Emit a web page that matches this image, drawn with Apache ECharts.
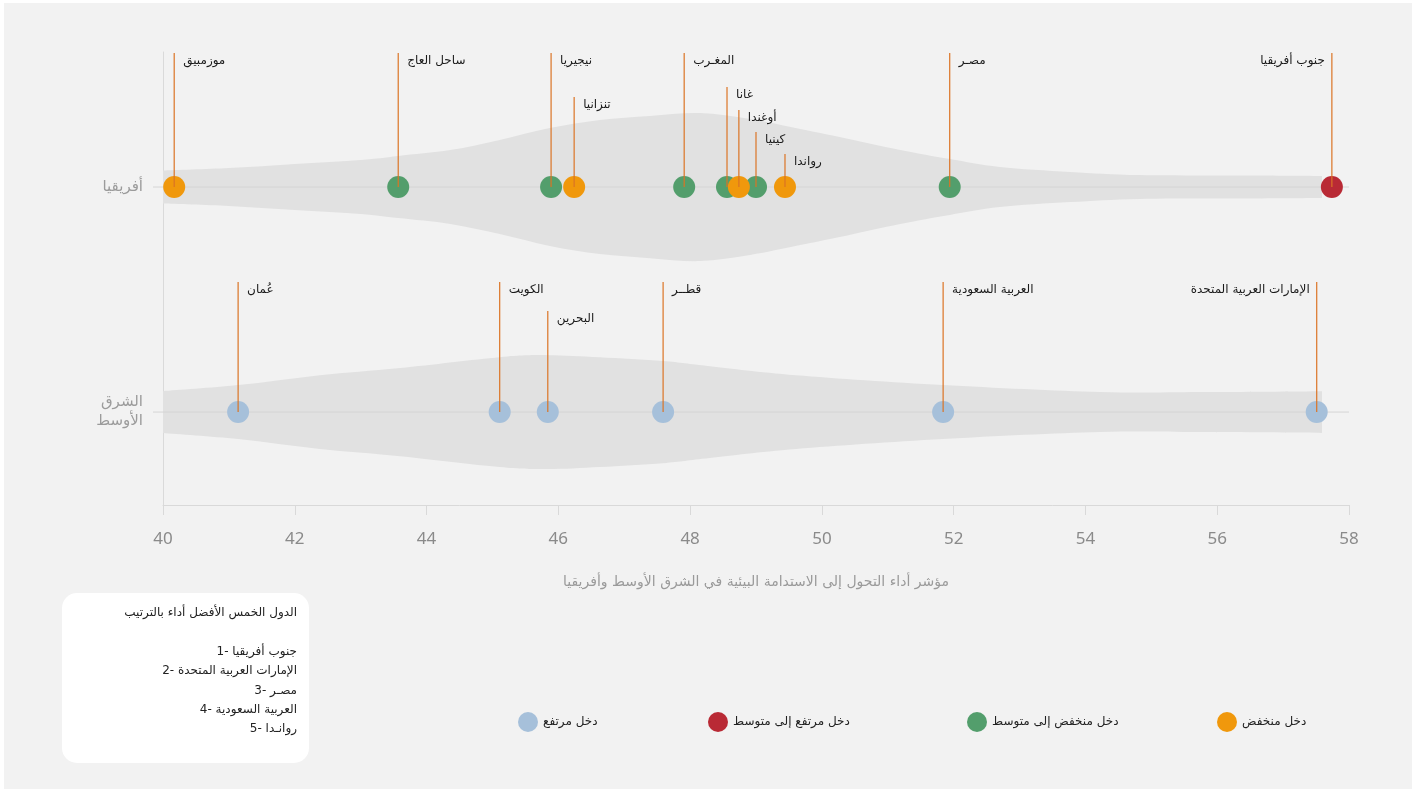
<!DOCTYPE html>
<html>
<head lang="ar">
    <meta charset="UTF-8">
    <title>violin</title>
    <style>
        body{ margin:0; background:#ffffff; }
        #chart{ position:absolute; left:4px; top:3px; width:1408px; height:786px; background:#f2f2f2; }
    </style>
</head>
<body>
<div id="chart"></div>
<script src="https://cdn.jsdelivr.net/npm/echarts@6/dist/echarts.min.js"></script>
<script>
    // الفئات (محور ص): 0 = الشرق الأوسط ، 1 = أفريقيا
    var regionNames = ['الشرق\nالأوسط', 'أفريقيا'];

    // فئات الدخل والألوان
    var incomeGroups = ['دخل مرتفع', 'دخل مرتفع إلى متوسط', 'دخل منخفض إلى متوسط', 'دخل منخفض'];
    var incomeColors = ['#a6c0da', '#b92a35', '#539e6c', '#f0980c'];

    // أفريقيا
    var africaNames  = ['موزمبيق', 'ساحل العاج', 'نيجيريا', 'تنزانيا', 'المغـرب', 'غانا', 'أوغندا', 'كينيا', 'رواندا', 'مصـر', 'جنوب أفريقيا'];
    var africaScores = [40.17, 43.57, 45.89, 46.24, 47.91, 48.56, 48.74, 49.00, 49.44, 51.94, 57.74];
    var africaIncome = [3, 2, 2, 3, 2, 2, 3, 2, 3, 2, 1];

    // الشرق الأوسط
    var meNames  = ['عُمان', 'الكويت', 'البحرين', 'قطــر', 'العربية السعودية', 'الإمارات العربية المتحدة'];
    var meScores = [41.14, 45.11, 45.84, 47.59, 51.84, 57.51];
    var meIncome = [0, 0, 0, 0, 0, 0];

    // شكل الكمان (القيمة، نصف العرض)
    var africaViolinX    = [40.0, 41.0, 42.0, 43.0, 43.57, 44.36, 45.11, 45.87, 46.63, 47.39, 48.15, 48.91, 49.67, 50.27, 51.19, 51.94, 52.70, 53.77, 54.83, 56.5, 57.59];
    var africaViolinHalf = [0.073, 0.084, 0.102, 0.12, 0.138, 0.164, 0.209, 0.262, 0.298, 0.316, 0.329, 0.302, 0.258, 0.222, 0.164, 0.124, 0.089, 0.067, 0.053, 0.051, 0.049];
    var meViolinX    = [40.0, 41.14, 42.38, 43.6, 45.11, 45.84, 46.63, 47.59, 48.3, 49.61, 51.84, 54.22, 55.74, 57.59];
    var meViolinHalf = [0.093, 0.12, 0.164, 0.196, 0.244, 0.253, 0.244, 0.227, 0.204, 0.164, 0.12, 0.089, 0.089, 0.093];

    // الدول الخمس الأفضل
    var topFiveTitle = 'الدول الخمس الأفضل أداء بالترتيب';
    var topFive = ['جنوب أفريقيا', 'الإمارات العربية المتحدة', 'مصـر', 'العربية السعودية', 'روانـدا'];

    var xAxisName = 'مؤشر أداء التحول إلى الاستدامة البيئية في الشرق الأوسط وأفريقيا';

    // ارتفاع خط التسمية (بكسل) - للتدرج فقط
    var labelLift = { 'تنزانيا': 90, 'غانا': 100, 'أوغندا': 77, 'كينيا': 55, 'رواندا': 33, 'البحرين': 101 };

    var myChart = echarts.init(document.getElementById('chart'));

    // بناء البيانات
    var points = [];
    africaNames.forEach(function (n, i) {
        points.push({ name: n, x: africaScores[i], y: 1, income: africaIncome[i], lift: labelLift[n] || 134 });
    });
    meNames.forEach(function (n, i) {
        points.push({ name: n, x: meScores[i], y: 0, income: meIncome[i], lift: labelLift[n] || 130 });
    });

    var scatterSeries = incomeGroups.map(function (g, k) {
        return {
            name: g,
            type: 'scatter',
            symbolSize: 22,
            z: 3,
            itemStyle: { color: incomeColors[k], opacity: 1 },
            data: points.filter(function (p) { return p.income === k; }).map(function (p) { return [p.x, p.y]; })
        };
    });

    // منحنى ناعم
    function curve(pts) {
        var d = '';
        for (var i = 0; i < pts.length - 1; i++) {
            var p0 = pts[i - 1] || pts[i], p1 = pts[i], p2 = pts[i + 1], p3 = pts[i + 2] || p2;
            var c1x = p1[0] + (p2[0] - p0[0]) / 6, c1y = p1[1] + (p2[1] - p0[1]) / 6;
            var c2x = p2[0] - (p3[0] - p1[0]) / 6, c2y = p2[1] - (p3[1] - p1[1]) / 6;
            d += ' C' + c1x + ',' + c1y + ' ' + c2x + ',' + c2y + ' ' + p2[0] + ',' + p2[1];
        }
        return d;
    }

    var violins = [
        { y: 0, xs: meViolinX, hs: meViolinHalf },
        { y: 1, xs: africaViolinX, hs: africaViolinHalf }
    ];

    function renderViolin(params, api) {
        var v = violins[params.dataIndex];
        var up = [], low = [];
        for (var i = 0; i < v.xs.length; i++) {
            up.push(api.coord([v.xs[i], v.y + v.hs[i]]));
            low.unshift(api.coord([v.xs[i], v.y - v.hs[i]]));
        }
        var d = 'M' + up[0][0] + ',' + up[0][1] + curve(up) +
            ' L' + low[0][0] + ',' + low[0][1] + curve(low) + ' Z';
        var a = api.coord([40, v.y]), b = api.coord([58, v.y]);
        return {
            type: 'group',
            children: [
                { type: 'path', shape: { pathData: d }, style: { fill: '#e1e1e1' } },
                { type: 'line', shape: { x1: a[0] - 10, y1: a[1], x2: b[0], y2: b[1] }, style: { stroke: '#d5d5d5', lineWidth: 1 } }
            ]
        };
    }

    function renderLeader(params, api) {
        var p = points[params.dataIndex];
        var c = api.coord([p.x, p.y]);
        var top = c[1] - p.lift;
        var onLeft = p.x > 57;
        return {
            type: 'group',
            children: [
                { type: 'line', shape: { x1: c[0], y1: c[1], x2: c[0], y2: top }, style: { stroke: '#db7425', lineWidth: 1.2 } },
                {
                    type: 'text', x: onLeft ? c[0] - 7 : c[0] + 9, y: top + 8,
                    style: { text: p.name, textAlign: onLeft ? 'right' : 'left', textVerticalAlign: 'middle', fill: '#1a1a1a', font: '12px "DejaVu Sans"' }
                }
            ]
        };
    }

    var legendLeft = [514, 704, 963, 1213];

    // صندوق الترتيب
    var boxFont = '12px "DejaVu Sans"';
    var boxTexts = [
        { type: 'rect', left: 58, top: 590, shape: { width: 247, height: 170, r: 15 }, style: { fill: '#ffffff' } },
        { type: 'text', x: 293, y: 610, style: { text: topFiveTitle, textAlign: 'right', textVerticalAlign: 'middle', fill: '#222', font: boxFont } }
    ];
    topFive.forEach(function (n, i) {
        boxTexts.push({ type: 'text', x: 293, y: 649 + i * 19.2,
            style: { text: (i + 1) + '- ' + n, textAlign: 'right', textVerticalAlign: 'middle', fill: '#222', font: boxFont } });
    });

    var option = {
        animation: false,
        grid: { left: 159, right: 63, top: 49, bottom: 284 },
        legend: incomeGroups.map(function (g, k) {
            return {
                data: [g], left: legendLeft[k], top: 709, padding: 0,
                icon: 'circle', itemWidth: 20, itemHeight: 20, itemGap: 0,
                textStyle: { color: '#222', fontSize: 12, fontFamily: 'DejaVu Sans' },
                selectedMode: false
            };
        }),
        xAxis: {
            type: 'value', min: 40, max: 58, interval: 2,
            name: xAxisName, nameLocation: 'middle', nameGap: 70,
            nameTextStyle: { color: '#9a9a9a', fontSize: 14, fontFamily: 'DejaVu Sans' },
            axisLine: { show: true, onZero: false, lineStyle: { color: '#d9d9d9' } },
            axisTick: { show: true, length: 10, lineStyle: { color: '#d9d9d9' } },
            splitLine: { show: false },
            axisLabel: { color: '#8a8a8a', fontSize: 17, margin: 26, fontFamily: 'Noto Sans' }
        },
        yAxis: {
            type: 'value', min: -0.413, max: 1.6,
            axisLine: { show: true, onZero: false, lineStyle: { color: '#dadada' } },
            axisTick: { show: false },
            splitLine: { show: false },
            axisLabel: {
                customValues: [0, 1],
                formatter: function (v) { return regionNames[Math.round(v)]; },
                color: '#9b9b9b', fontSize: 15, lineHeight: 19, margin: 20, fontFamily: 'DejaVu Sans'
            }
        },
        graphic: boxTexts,
        series: [
            { type: 'custom', name: 'violin', z: 1, clip: false, renderItem: renderViolin, data: [[0], [1]], silent: true }
        ].concat(scatterSeries).concat([
            { type: 'custom', name: 'labels', z: 4, clip: false, renderItem: renderLeader, silent: true,
              data: points.map(function (p) { return [p.x, p.y]; }) }
        ])
    };

    myChart.setOption(option);
</script>
</body>
</html>
